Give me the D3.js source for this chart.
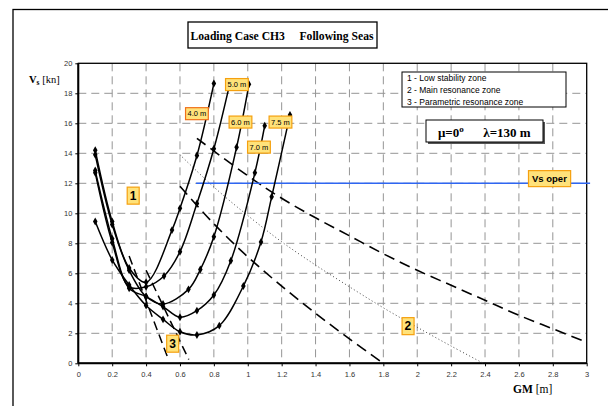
<!DOCTYPE html>
<html>
<head>
<meta charset="UTF-8">
<title>Loading Case CH3 Following Seas</title>
<script src="https://cdn.jsdelivr.net/npm/d3@7"></script>
<style>
  body { margin: 0; background: #fff; }
  svg text { font-family: "Liberation Sans", Arial, sans-serif; }
  svg .serif { font-family: "Liberation Serif", "Times New Roman", serif; }
</style>
</head>
<body>
<svg id="chart" width="608" height="406"></svg>
<script>
// ---- data (GM [m], Vs [kn]) ----
var waveHeights = ["4.0 m", "5.0 m", "6.0 m", "7.0 m", "7.5 m"];
var curve40 = [[0.1,14.2],[0.2,9.45],[0.3,6.35],[0.4,5.4],[0.553,8.88],[0.6,10.33],[0.7,13.85],[0.8,18.65]];
var curve50 = [[0.1,12.7],[0.2,8.05],[0.3,5.11],[0.4,5.1],[0.506,5.82],[0.6,7.44],[0.7,10.65],[0.8,14.3],[0.895,18.7]];
var curve60 = [[0.1,13.9],[0.2,9.25],[0.3,6.2],[0.4,4.45],[0.5,3.95],[0.65,4.93],[0.72,6.25],[0.8,8.44],[0.934,14.4],[1.007,18.6]];
var curve70 = [[0.1,12.85],[0.2,8.3],[0.3,5.0],[0.4,4.45],[0.5,3.78],[0.6,3.07],[0.7,3.51],[0.8,4.55],[0.9,6.84],[1.042,12.7],[1.1,15.84]];
var curve75 = [[0.1,9.45],[0.2,6.89],[0.3,5.22],[0.4,3.85],[0.5,2.93],[0.6,2.1],[0.7,1.89],[0.832,2.51],[0.974,5.15],[1.078,8.09],[1.141,11.1],[1.249,16.55]];

// zone boundaries
var mainResUpper = [[0.7,15.0],[1.0,12.5],[1.2,11.0],[1.4,9.7],[1.6,8.5],[1.8,7.3],[2.0,6.2],[2.2,5.2],[2.4,4.2],[2.6,3.2],[2.8,2.3],[3.0,1.4]];
var mainResMid   = [[0.6,13.9],[0.8,11.75],[1.0,9.85],[1.2,8.1],[1.4,6.55],[1.6,5.1],[1.8,3.7],[2.0,2.4],[2.2,1.15],[2.39,0.0]];
var mainResLower = [[0.6,11.8],[0.8,9.3],[1.0,7.1],[1.2,5.15],[1.4,3.33],[1.6,1.63],[1.8,0.0]];
var paramRes1 = [[0.3,7.15],[0.527,0.4]];
var paramRes2 = [[0.4,6.2],[0.652,0.25]];
var vsOper = [[0.695,12],[3.02,12]];

var xTicks = [0,0.2,0.4,0.6,0.8,1,1.2,1.4,1.6,1.8,2,2.2,2.4,2.6,2.8,3];
var yTicks = [0,2,4,6,8,10,12,14,16,18,20];
var legendLines = ["1 - Low stability zone", "2 - Main resonance zone", "3 - Parametric resonance zone"];

// tags: text and anchor in data units
var curveTags = [["4.0 m",0.70,16.65],["5.0 m",0.936,18.59],["6.0 m",0.957,16.09],["7.0 m",1.066,14.42],["7.5 m",1.193,16.09]];
var zoneTags = [["1",0.323,11.19],["2",1.945,2.49],["3",0.556,1.32]];

var svg = d3.select('#chart');
var xs = d3.scaleLinear().domain([0,3]).range([78.3,586.7]);
var ys = d3.scaleLinear().domain([0,20]).range([363.3,63.3]);

// outer frame (only top and left are inside the window)
svg.append('rect').attr('x',13).attr('y',9.5).attr('width',700).attr('height',500)
   .attr('fill','none').attr('stroke','#000').attr('stroke-width',1.3);

// grid
svg.append('g').selectAll('line').data(xTicks.slice(1,-1)).enter().append('line')
   .attr('x1',function(d){return xs(d);}).attr('x2',function(d){return xs(d);})
   .attr('y1',ys(20)).attr('y2',ys(0))
   .attr('stroke','#959595').attr('stroke-width',1).attr('stroke-dasharray','8,5');
svg.append('g').selectAll('line').data(yTicks.slice(1,-1)).enter().append('line')
   .attr('y1',function(d){return ys(d);}).attr('y2',function(d){return ys(d);})
   .attr('x1',xs(0)).attr('x2',xs(3))
   .attr('stroke','#959595').attr('stroke-width',1).attr('stroke-dasharray','8,5');

// axes
var xAxis = svg.append('g').attr('transform','translate(0,'+ys(0)+')')
   .call(d3.axisBottom(xs).tickValues(xTicks).tickSize(3).tickPadding(5).tickFormat(function(d){return String(d);}));
var yAxis = svg.append('g').attr('transform','translate('+xs(0)+',0)')
   .call(d3.axisLeft(ys).tickValues(yTicks).tickSize(3).tickPadding(3).tickFormat(function(d){return String(d);}));
[xAxis,yAxis].forEach(function(a){
  a.select('.domain').remove();
  a.selectAll('text').attr('font-size',7.5).attr('fill','#333').style('font-family','"Liberation Sans",Arial,sans-serif');
  a.selectAll('line').attr('stroke','#000');
});

// plot border
svg.append('rect').attr('x',xs(0)).attr('y',ys(20)).attr('width',xs(3)-xs(0)).attr('height',ys(0)-ys(20))
   .attr('fill','none').attr('stroke','#000').attr('stroke-width',1.3);
svg.append('line').attr('x1',xs(0)).attr('x2',xs(3)).attr('y1',ys(0)).attr('y2',ys(0)).attr('stroke','#000').attr('stroke-width',2);
svg.append('line').attr('x1',xs(0)).attr('x2',xs(0)).attr('y1',ys(0)).attr('y2',ys(20)).attr('stroke','#000').attr('stroke-width',2);

var straight = d3.line().x(function(d){return xs(d[0]);}).y(function(d){return ys(d[1]);});
var smooth = d3.line().x(function(d){return xs(d[0]);}).y(function(d){return ys(d[1]);}).curve(d3.curveCatmullRom.alpha(0.5));

// zone lines
svg.append('path').attr('d',smooth(mainResUpper)).attr('fill','none').attr('stroke','#000').attr('stroke-width',1.6).attr('stroke-dasharray','11,6');
svg.append('path').attr('d',smooth(mainResLower)).attr('fill','none').attr('stroke','#000').attr('stroke-width',1.6).attr('stroke-dasharray','11,6');
svg.append('path').attr('d',smooth(mainResMid)).attr('fill','none').attr('stroke','#444').attr('stroke-width',1).attr('stroke-dasharray','1,2.5');
svg.append('path').attr('d',straight(paramRes1)).attr('fill','none').attr('stroke','#000').attr('stroke-width',1.5).attr('stroke-dasharray','9,5');
svg.append('path').attr('d',straight(paramRes2)).attr('fill','none').attr('stroke','#000').attr('stroke-width',1.5).attr('stroke-dasharray','9,5');

// operational speed
svg.append('path').attr('d',straight(vsOper)).attr('fill','none').attr('stroke','#2f66f2').attr('stroke-width',1.6);

// speed curves
var curves = [curve40, curve50, curve60, curve70, curve75];
var diamond = d3.symbol().type(d3.symbolDiamond).size(18);
curves.forEach(function(c, i){
  var g = svg.append('g').attr('class','curve').attr('data-h', waveHeights[i]);
  g.append('path').attr('d',smooth(c)).attr('fill','none').attr('stroke','#000').attr('stroke-width',1.5);
  g.selectAll('path.mk').data(c).enter().append('path').attr('class','mk')
   .attr('d',diamond)
   .attr('transform',function(d){return 'translate('+xs(d[0])+','+ys(d[1])+')';})
   .attr('fill','#000');
});

// yellow tags
function tag(txt, gx, gy, size, bold, padX, padY, edge){
  var g = svg.append('g');
  var t = g.append('text').attr('x',xs(gx)).attr('y',ys(gy)).attr('dy','0.35em')
    .attr('text-anchor','middle').attr('font-size',size).attr('font-weight',bold ? 'bold' : 'normal')
    .attr('fill','#000').text(txt);
  var bb = t.node().getBBox();
  g.insert('rect','text').attr('x',bb.x-padX).attr('y',bb.y-padY)
    .attr('width',bb.width+2*padX).attr('height',bb.height+2*padY)
    .attr('fill','#ffe27a').attr('stroke',edge || '#f5a00f').attr('stroke-width',1.2);
}
curveTags.forEach(function(d, i){ tag(d[0], d[1], d[2], 7.5, false, 2, 1.5, i === 0 ? '#f0701a' : null); });
zoneTags.forEach(function(d){ tag(d[0], d[1], d[2], 12, true, 2.5, 1.5); });
tag('Vs oper', 2.78, 12.3, 9.5, true, 3.5, 2.5);

// title box
svg.append('rect').attr('x',188).attr('y',22).attr('width',189).attr('height',26)
   .attr('fill','#fff').attr('stroke','#000').attr('stroke-width',1.3);
svg.append('text').attr('class','serif').attr('x',190.5).attr('y',40)
   .attr('font-size',12.5).attr('font-weight','bold').attr('xml:space','preserve')
   .attr('textLength',183).attr('lengthAdjust','spacingAndGlyphs')
   .text('Loading Case CH3     Following Seas');

// legend box
svg.append('rect').attr('x',402).attr('y',72).attr('width',164).attr('height',35)
   .attr('fill','#fff').attr('stroke','#000').attr('stroke-width',1);
svg.append('g').selectAll('text').data(legendLines).enter().append('text')
   .attr('x',407).attr('y',function(d,i){return 81+i*12;})
   .attr('font-size',8.5).attr('fill','#000').text(function(d){return d;});

// wave parameters box
svg.append('rect').attr('x',428).attr('y',122).attr('width',117).attr('height',22).attr('fill','#555');
svg.append('rect').attr('x',426).attr('y',120).attr('width',117).attr('height',22)
   .attr('fill','#fff').attr('stroke','#000').attr('stroke-width',1);
var mu = svg.append('text').attr('class','serif').attr('x',438).attr('y',137)
   .attr('font-size',13).attr('font-weight','bold').attr('xml:space','preserve');
mu.append('tspan').text('\u03bc=0');
mu.append('tspan').attr('dy',-5).attr('font-size',9).text('o');
mu.append('tspan').attr('dy',5).text('      \u03bb=130 m');

// axis titles
var yt = svg.append('text').attr('class','serif').attr('x',29).attr('y',83).attr('font-size',10.5);
yt.append('tspan').attr('font-weight','bold').text('V');
yt.append('tspan').attr('font-weight','bold').attr('font-size',7.5).attr('dy',2).text('s');
yt.append('tspan').attr('dy',-2).text(' [kn]');
var xt = svg.append('text').attr('class','serif').attr('x',513).attr('y',393).attr('font-size',11.5);
xt.append('tspan').attr('font-weight','bold').text('GM');
xt.append('tspan').text(' [m]');
</script>
</body>
</html>
